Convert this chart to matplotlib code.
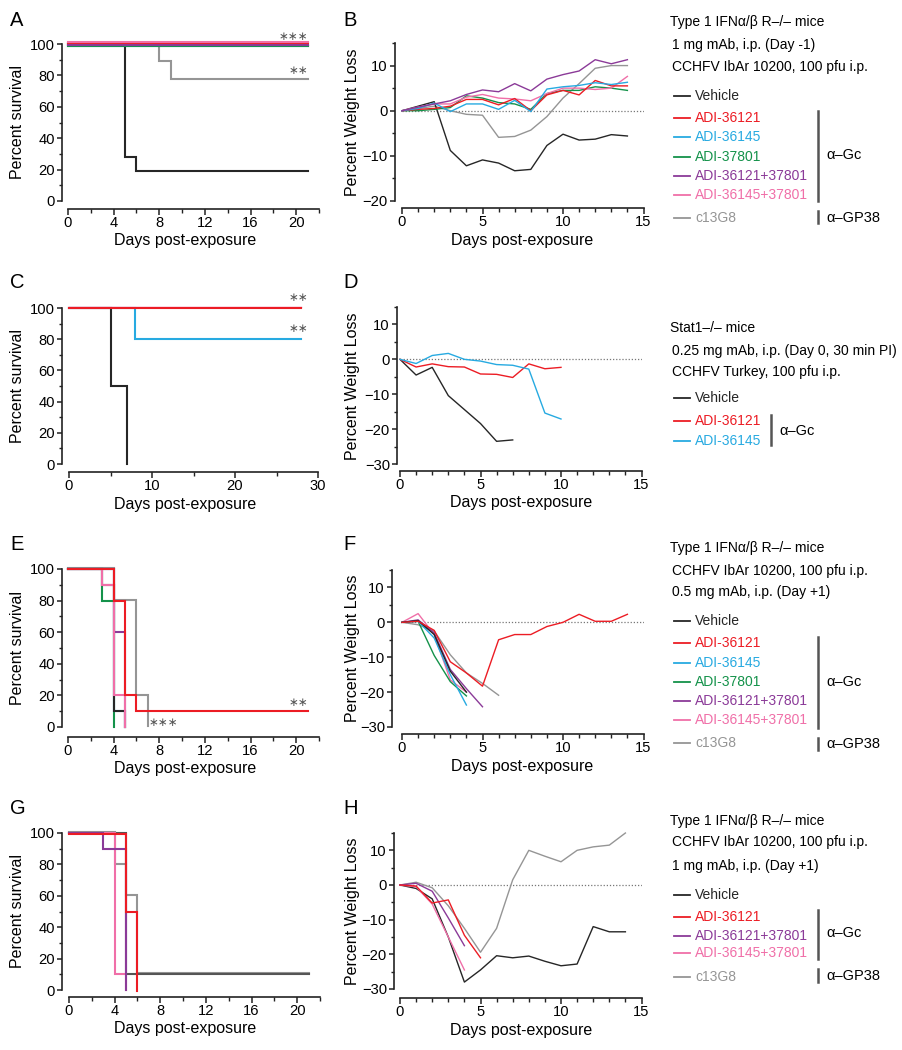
import matplotlib
matplotlib.use('Agg')
import matplotlib.pyplot as plt
from matplotlib.ticker import MultipleLocator
from matplotlib.lines import Line2D
import matplotlib.transforms as mtrans

plt.rcParams['font.family'] = ['Liberation Sans', 'DejaVu Sans']

# ---------------- colours ----------------
C_VEH = '#262626'
C_36121 = '#ec1c24'
C_36145 = '#27aae1'
C_37801 = '#14924a'
C_COMBO1 = '#8b3a98'
C_COMBO2 = '#f06fa8'
C_C13 = '#959595'

# ---------------- Panel A (survival) ----------------
A_days_vehicle = [0, 5, 6, 21]
A_surv_vehicle = [100, 28, 19, 19]
A_days_c13 = [0, 8, 9, 21]
A_surv_c13 = [100, 89, 78, 78]
A_days_full = [0, 21]
A_surv_full = [100, 100]

# ---------------- Panel B (weight) ----------------
B_days = list(range(15))
B_vehicle = [0, 1, 2, -8.8, -12.2, -10.9, -11.6, -13.3, -13, -7.7, -5.2, -6.5, -6.3, -5.3, -5.6]
B_36121 = [0, 0.3, 0.5, 1, 2.5, 2.5, 1.3, 2.7, 0, 3.5, 4.5, 3.5, 6.7, 5.5, 5.5]
B_36145 = [0, 0.5, 1.7, -0.2, 1.5, 1.5, 0.3, 2.3, -0.2, 4.8, 5.3, 5.6, 6.2, 5.8, 6.3]
B_37801 = [0, 0, 0.3, 0.7, 3.3, 2.8, 1.8, 1.5, 0.3, 3.8, 4.5, 4.5, 5.3, 5, 4.5]
B_combo1 = [0, 0.8, 1.5, 2.2, 3.6, 4.6, 4.2, 6, 4.4, 7, 8, 8.8, 11.3, 10.4, 11.3]
B_combo2 = [0, 0.8, 1.5, 1.5, 3, 3.6, 2.8, 2.6, 2.2, 3.8, 5, 5, 4.7, 5, 7.6]
B_c13 = [0, 0.5, 1, 0, -0.8, -1, -5.9, -5.7, -4.3, -1.3, 2.8, 6, 9.4, 10, 10]

# ---------------- Panel C (survival) ----------------
C_days_vehicle = [0, 5, 7]
C_surv_vehicle = [100, 50, 0]
C_days_36145 = [0, 8, 28]
C_surv_36145 = [100, 80, 80]
C_days_36121 = [0, 28]
C_surv_36121 = [100, 100]

# ---------------- Panel D (weight) ----------------
D_days_vehicle = list(range(8))
D_vehicle = [0, -4.5, -2.3, -10.4, -14.4, -18.4, -23.5, -23.1]
D_days_mab = list(range(11))
D_36121 = [0, -2.2, -1.3, -2.1, -2.2, -4.2, -4.3, -5.2, -1.3, -2.7, -2.3]
D_36145 = [0, -1.2, 1.1, 1.7, 0, -0.5, -1.5, -1.7, -2.8, -15.4, -17.1]

# ---------------- Panel E (survival) ----------------
E_days_vehicle = [0, 3, 4, 5]
E_surv_vehicle = [100, 90, 10, 0]
E_days_36121 = [0, 4, 5, 6, 21]
E_surv_36121 = [100, 80, 20, 10, 10]
E_days_36145 = [0, 4, 5]
E_surv_36145 = [100, 10, 0]
E_days_37801 = [0, 3, 4]
E_surv_37801 = [100, 80, 0]
E_days_combo1 = [0, 4, 5]
E_surv_combo1 = [100, 60, 0]
E_days_combo2 = [0, 3, 4, 5]
E_surv_combo2 = [100, 90, 20, 0]
E_days_c13 = [0, 4, 6, 7]
E_surv_c13 = [100, 80, 20, 0]

# ---------------- Panel F (weight) ----------------
F_vehicle = [0, 0.5, -3.5, -14, -20]
F_36121 = [0, 0.3, -2.3, -11.3, -14.5, -18.3, -5, -3.5, -3.5, -1.2, 0, 2.3, 0.3, 0.3, 2.3]
F_36145 = [0, 0.3, -4.5, -15, -23.7]
F_37801 = [0, 0.3, -9.5, -17, -21.1]
F_combo1 = [0, 0.7, -3, -13.5, -19, -24.2]
F_combo2 = [0, 2.5, -3.5, -16.5, -20]
F_c13 = [0, -0.7, -2.5, -9.3, -14.5, -17.5, -20.9]

# ---------------- Panel G (survival) ----------------
G_days_vehicle = [0, 5, 21]
G_surv_vehicle = [100, 10, 10]
G_days_36121 = [0, 5, 6]
G_surv_36121 = [100, 50, 0]
G_days_combo1 = [0, 3, 5]
G_surv_combo1 = [100, 90, 0]
G_days_combo2 = [0, 4, 5]
G_surv_combo2 = [100, 10, 0]
G_days_c13 = [0, 4, 5, 6, 21]
G_surv_c13 = [100, 80, 60, 10, 10]

# ---------------- Panel H (weight) ----------------
H_vehicle = [0, -1, -4, -15, -28, -24.5, -20.4, -21, -20.5, -22, -23.3, -22.8, -12, -13.5, -13.5]
H_c13 = [0, 0.8, -0.8, -6, -12.5, -19.4, -12.5, 1.5, 10, 8.3, 6.7, 10, 11, 11.5, 15]
H_36121 = [0, -0.3, -5.2, -4.3, -14.5, -21]
H_combo1 = [0, 0.5, -1.8, -9.5, -17.5]
H_combo2 = [0, -0.5, -5.5, -15, -24.5]

# ---------------- figure ----------------
W, H = 902, 1050
fig = plt.figure(figsize=(W / 100, H / 100), dpi=100)
PX = 0.72  # points per pixel

TICK_FS = 10.6
LABEL_FS = 11.5
LEG_FS = 10


def make_ax(x0, x1, ytop, ybot, xlim, ylim, xmaj, xmin, ymaj, ymin, offl, offb):
    ax = fig.add_axes([x0 / W, 1 - ybot / H, (x1 - x0) / W, (ybot - ytop) / H])
    ax.set_xlim(xlim)
    ax.set_ylim(ylim)
    ax.patch.set_visible(False)
    for s in ['top', 'right']:
        ax.spines[s].set_visible(False)
    for s in ['left', 'bottom']:
        ax.spines[s].set_linewidth(1.2)
        ax.spines[s].set_color('#222222')
    ax.spines['left'].set_position(('outward', offl * PX))
    ax.spines['bottom'].set_position(('outward', offb * PX))
    ax.xaxis.set_major_locator(MultipleLocator(xmaj))
    ax.xaxis.set_minor_locator(MultipleLocator(xmin))
    ax.yaxis.set_major_locator(MultipleLocator(ymaj))
    ax.yaxis.set_minor_locator(MultipleLocator(ymin))
    ax.tick_params(which='major', length=5 * PX, width=1.1, color='#222222',
                   labelsize=TICK_FS, direction='out', pad=1.5)
    ax.tick_params(which='minor', length=3.5 * PX, width=1.0, color='#222222', direction='out')
    ax.tick_params(axis='x', which='major', length=6 * PX, pad=1)
    return ax


def surv(ax, t, s, color, dy=0.0, lw=1.5, z=2):
    tr = mtrans.offset_copy(ax.transData, fig=fig, x=0, y=dy * PX, units='points')
    ax.step(t, s, where='post', color=color, lw=lw, transform=tr, clip_on=False,
            solid_joinstyle='miter', zorder=z)


def wline(ax, x, y, color, lw=1.0, z=2):
    ax.plot(x, y, color=color, lw=lw, clip_on=False, zorder=z)


def zero_line(ax):
    ax.plot([0, 15], [0, 0], color='#777777', lw=0.9, ls=(0, (1, 1.5)), zorder=1)


def ftext(x, y, s, **kw):
    kw.setdefault('fontsize', LEG_FS)
    kw.setdefault('va', 'center')
    kw.setdefault('ha', 'left')
    fig.text(x / W, 1 - y / H, s, **kw)


def fline(x0, x1, y0, y1, color, lw):
    fig.add_artist(Line2D([x0 / W, x1 / W], [1 - y0 / H, 1 - y1 / H], color=color, lw=lw,
                          transform=fig.transFigure))


def labels(xc, yx, ylx, yc, ylabel):
    ftext(xc, yx, 'Days post-exposure', fontsize=LABEL_FS, ha='center')
    ftext(ylx, yc, ylabel, fontsize=LABEL_FS, ha='center', rotation=90)


def star(xr, y, s):
    ftext(xr, y, s, ha='right', va='center', fontsize=8.5, color='#555555',
          family='DejaVu Sans')


def weight_ax(x0, ytop, ybot, ylim, yspine_x, xspine_y):
    x15 = x0 + 15 * 16.1
    return make_ax(x0, x15, ytop, ybot, (0, 15), ylim, 5, 1, 10, 5,
                   x0 - yspine_x, xspine_y - ybot)


# ---------- A ----------
axA = make_ax(68, 319, 44, 201, (0, 22), (0, 100), 4, 2, 20, 10, 6, 8)
axA.set_xticks([0, 4, 8, 12, 16, 20])
surv(axA, A_days_vehicle, A_surv_vehicle, C_VEH)
surv(axA, A_days_c13, A_surv_c13, C_C13)
surv(axA, A_days_full, A_surv_full, C_36145, dy=-2.2)
surv(axA, A_days_full, A_surv_full, C_37801, dy=-1.5)
surv(axA, A_days_full, A_surv_full, C_COMBO1, dy=-0.5)
surv(axA, A_days_full, A_surv_full, C_36121, dy=0.6)
surv(axA, A_days_full, A_surv_full, C_COMBO2, dy=1.8)
labels(185, 241, 18, 122, 'Percent survival')
star(308, 36, '∗∗∗')
star(308, 70, '∗∗')

# ---------- B ----------
axB = weight_ax(402, 43, 201, (-20, 15), 395, 208)
zero_line(axB)
for y, c in [(B_c13, C_C13), (B_vehicle, C_VEH), (B_37801, C_37801), (B_combo2, C_COMBO2),
             (B_36121, C_36121), (B_36145, C_36145), (B_combo1, C_COMBO1)]:
    wline(axB, B_days, y, c)
labels(522, 240, 352, 122, 'Percent Weight Loss')

# ---------- C ----------
axC = make_ax(69, 318, 308, 464, (0, 30), (0, 100), 10, 5, 20, 10, 7, 8)
surv(axC, C_days_vehicle, C_surv_vehicle, C_VEH)
surv(axC, C_days_36145, C_surv_36145, C_36145)
surv(axC, C_days_36121, C_surv_36121, C_COMBO2, dy=1.5, lw=1.0)
surv(axC, C_days_36121, C_surv_36121, C_36121, dy=0.5)
labels(185, 504, 18, 386, 'Percent survival')
star(308, 297, '∗∗')
star(308, 329, '∗∗')

# ---------- D ----------
axD = weight_ax(400, 307, 464, (-30, 15), 397, 471)
zero_line(axD)
wline(axD, D_days_vehicle, D_vehicle, C_VEH)
wline(axD, D_days_mab, D_36121, C_36121)
wline(axD, D_days_mab, D_36145, C_36145)
labels(521, 503, 352, 386, 'Percent Weight Loss')

# ---------- E ----------
axE = make_ax(68, 319, 569, 727, (0, 22), (0, 100), 4, 2, 20, 10, 6, 10)
axE.set_xticks([0, 4, 8, 12, 16, 20])
surv(axE, E_days_c13, E_surv_c13, C_C13, dy=0.8)
surv(axE, E_days_37801, E_surv_37801, C_37801)
surv(axE, E_days_36145, E_surv_36145, C_36145)
surv(axE, E_days_vehicle, E_surv_vehicle, C_VEH)
surv(axE, E_days_combo1, E_surv_combo1, C_COMBO1)
surv(axE, E_days_combo2, E_surv_combo2, C_COMBO2)
surv(axE, E_days_36121, E_surv_36121, C_36121)
labels(185, 769, 18, 648, 'Percent survival')
star(178, 722, '∗∗∗')
star(308, 703, '∗∗')

# ---------- F ----------
axF = weight_ax(402, 570, 727, (-30, 15), 392, 734)
zero_line(axF)
for y, c in [(F_c13, C_C13), (F_combo2, C_COMBO2), (F_37801, C_37801), (F_combo1, C_COMBO1),
             (F_36145, C_36145), (F_vehicle, C_VEH), (F_36121, C_36121)]:
    wline(axF, list(range(len(y))), y, c)
labels(522, 766, 352, 648, 'Percent Weight Loss')

# ---------- G ----------
axG = make_ax(69, 320, 833, 990, (0, 22), (0, 100), 4, 2, 20, 10, 7, 7)
axG.set_xticks([0, 4, 8, 12, 16, 20])
surv(axG, G_days_c13, G_surv_c13, C_C13, dy=0.8)
surv(axG, G_days_vehicle, G_surv_vehicle, '#555555')
surv(axG, G_days_combo2, G_surv_combo2, C_COMBO2)
surv(axG, G_days_combo1, G_surv_combo1, C_COMBO1)
surv(axG, G_days_36121, G_surv_36121, C_36121, dy=-0.5)
labels(185, 1029, 18, 911, 'Percent survival')

# ---------- H ----------
axH = weight_ax(400, 833, 989, (-30, 15), 394, 998)
zero_line(axH)
for y, c in [(H_c13, C_C13), (H_vehicle, C_VEH), (H_combo2, C_COMBO2), (H_combo1, C_COMBO1),
             (H_36121, C_36121)]:
    wline(axH, list(range(len(y))), y, c)
labels(521, 1030, 352, 911, 'Percent Weight Loss')

# ---------- panel letters ----------
for ch, x, y in [('A', 10, 20), ('B', 343, 20), ('C', 10, 282), ('D', 343, 282),
                 ('E', 10, 545), ('F', 343, 545), ('G', 10, 808), ('H', 343, 808)]:
    ftext(x, y, ch, fontsize=14.5)


# ---------- legends ----------
def legend(titles, entries, gc_bar=None, gp_bar=None, gc_x=818, gc_label=None, gp_label=None):
    for (y, s, x) in titles:
        ftext(x, y, s)
    for (y, s, c) in entries:
        fline(674, 690, y, y, c, 1.3)
        ftext(695, y, s, color=c)
    if gc_bar:
        fline(gc_x, gc_x, gc_bar[0], gc_bar[1], '#555555', 1.8)
        ftext(gc_x + 8, gc_label, 'α–Gc', fontsize=10.5)
    if gp_bar:
        fline(gc_x, gc_x, gp_bar[0], gp_bar[1], '#555555', 1.8)
        ftext(gc_x + 8, gp_label, 'α–GP38', fontsize=10.5)


legend([(22, 'Type 1 IFNα/β R–/– mice', 670), (45, '1 mg mAb, i.p. (Day -1)', 672),
        (67, 'CCHFV IbAr 10200, 100 pfu i.p.', 672)],
       [(96, 'Vehicle', C_VEH), (118, 'ADI-36121', C_36121), (137, 'ADI-36145', C_36145),
        (157, 'ADI-37801', C_37801), (176, 'ADI-36121+37801', C_COMBO1),
        (195, 'ADI-36145+37801', C_COMBO2), (218, 'c13G8', C_C13)],
       gc_bar=(111, 201), gp_bar=(211, 223), gc_label=155, gp_label=218)

legend([(328, 'Stat1–/– mice', 670), (351, '0.25 mg mAb, i.p. (Day 0, 30 min PI)', 672),
        (372, 'CCHFV Turkey, 100 pfu i.p.', 672)],
       [(398, 'Vehicle', C_VEH), (421, 'ADI-36121', C_36121), (441, 'ADI-36145', C_36145)],
       gc_bar=(415, 445), gc_x=771, gc_label=431)

legend([(548, 'Type 1 IFNα/β R–/– mice', 670), (571, 'CCHFV IbAr 10200, 100 pfu i.p.', 672),
        (592, '0.5 mg mAb, i.p. (Day +1)', 672)],
       [(621, 'Vehicle', C_VEH), (643, 'ADI-36121', C_36121), (663, 'ADI-36145', C_36145),
        (682, 'ADI-37801', C_37801), (701, 'ADI-36121+37801', C_COMBO1),
        (720, 'ADI-36145+37801', C_COMBO2), (743, 'c13G8', C_C13)],
       gc_bar=(637, 728), gp_bar=(738, 750), gc_label=682, gp_label=744)

legend([(821, 'Type 1 IFNα/β R–/– mice', 670), (842, 'CCHFV IbAr 10200, 100 pfu i.p.', 672),
        (866, '1 mg mAb, i.p. (Day +1)', 672)],
       [(895, 'Vehicle', C_VEH), (917, 'ADI-36121', C_36121), (936, 'ADI-36121+37801', C_COMBO1),
        (953, 'ADI-36145+37801', C_COMBO2), (977, 'c13G8', C_C13)],
       gc_bar=(910, 959), gp_bar=(969, 982), gc_label=933, gp_label=976)

fig.savefig('out.png', dpi=100)
